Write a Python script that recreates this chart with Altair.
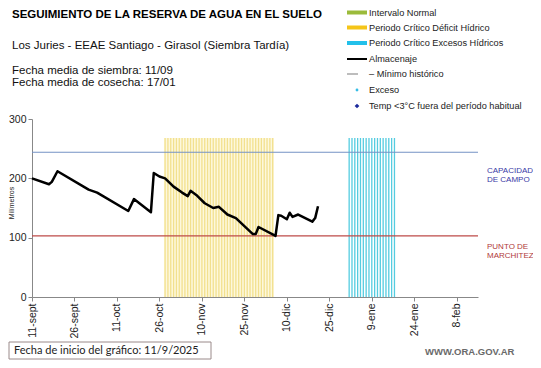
import altair as alt
import pandas as pd

# ---------------- data ----------------
start_date = "2025-09-11"

alm_dates = ["2025-09-11", "2025-09-17", "2025-09-18", "2025-09-20", "2025-10-01",
             "2025-10-04", "2025-10-15", "2025-10-17", "2025-10-23", "2025-10-24",
             "2025-10-26", "2025-10-28", "2025-10-31", "2025-11-03", "2025-11-04",
             "2025-11-05", "2025-11-06", "2025-11-08", "2025-11-11", "2025-11-14",
             "2025-11-16", "2025-11-19", "2025-11-22", "2025-11-28", "2025-11-29",
             "2025-11-30", "2025-12-06", "2025-12-07", "2025-12-08", "2025-12-10",
             "2025-12-11", "2025-12-12", "2025-12-14", "2025-12-19", "2025-12-20",
             "2025-12-21"]
alm_vals = [200, 190, 194, 212, 181, 176, 145, 165, 143, 209,
            203, 200, 186, 176, 173, 170, 179, 172, 158, 150,
            152, 139, 133, 106, 106, 118, 103, 138, 137, 131,
            142, 135, 139, 127, 133, 153]

deficit_start, deficit_end = "2025-10-28", "2025-12-05"
exceso_start, exceso_end = "2026-01-01", "2026-01-17"
band_top = 268
cap_campo = 244
punto_marchitez = 103

tick_labels = ["11-sept", "26-sept", "11-oct", "26-oct", "10-nov", "25-nov",
               "10-dic", "25-dic", "9-ene", "24-ene", "8-feb"]
y_ticks = [0, 50, 100, 150, 200, 250, 300]

# ---------------- tables ----------------
t0 = pd.to_datetime(start_date)
def day(d):
    return (pd.to_datetime(d) - t0).days

alm = pd.DataFrame({"day": [day(d) for d in alm_dates], "val": alm_vals})
def_days = list(range(day(deficit_start), day(deficit_end) + 1))
exc_days = list(range(day(exceso_start), day(exceso_end) + 1))
deficit = pd.DataFrame({"day": def_days, "top": band_top, "base": 0})
exceso = pd.DataFrame({"day": exc_days, "top": band_top, "base": 0})
def_bg = pd.DataFrame({"d1": [day(deficit_start) - 0.4], "d2": [day(deficit_end) + 0.4],
                       "top": [band_top], "base": [0]})
tick_days = [15 * i for i in range(len(tick_labels))]

W, H = 446, 178
FONT = "Liberation Sans"

xscale = alt.Scale(domain=[0, 157.5], nice=False, zero=False)
yscale = alt.Scale(domain=[0, 300], nice=False)

label_js = "[" + ",".join("'%s'" % s for s in tick_labels) + "][round(datum.value/15)]"

xaxis = alt.Axis(values=tick_days, labelExpr=label_js, labelAngle=-90, labelFontSize=10.5,
                 labelColor="#222", tickSize=4, tickColor="#888", domainColor="#888",
                 grid=False, title=None, labelPadding=2, labelFont=FONT)
yaxis = alt.Axis(values=y_ticks, labelFontSize=10.5, labelColor="#222", tickSize=4,
                 tickColor="#888", domainColor="#888", grid=False, title=None,
                 labelPadding=2, labelFont=FONT)

one = pd.DataFrame({"a": [0]})

ybg = alt.Chart(def_bg).mark_rect(color="#fdf8dc").encode(
    x=alt.X("d1:Q", scale=xscale, axis=xaxis), x2="d2:Q",
    y=alt.Y("top:Q", scale=yscale, axis=yaxis), y2="base:Q")
yellow = alt.Chart(deficit).mark_rule(color="#f2e08e", strokeWidth=1.3).encode(
    x=alt.X("day:Q", scale=xscale),
    y=alt.Y("top:Q", scale=yscale),
    y2="base:Q")
cyan = alt.Chart(exceso).mark_rule(color="#55cce0", strokeWidth=1.3).encode(
    x=alt.X("day:Q", scale=xscale), y=alt.Y("top:Q", scale=yscale), y2="base:Q")

cc = alt.Chart(pd.DataFrame({"v": [cap_campo]})).mark_rule(color="#7592c4", strokeWidth=1.2).encode(
    y=alt.Y("v:Q", scale=yscale))
pm = alt.Chart(pd.DataFrame({"v": [punto_marchitez]})).mark_rule(color="#be4b48", strokeWidth=1.2).encode(
    y=alt.Y("v:Q", scale=yscale))

line = alt.Chart(alm).mark_line(color="black", strokeWidth=2.5, strokeJoin="round").encode(
    x=alt.X("day:Q", scale=xscale), y=alt.Y("val:Q", scale=yscale))

OX, OY = 32, 119
def txt(s, px, py, size=11, color="#111", weight="normal", font=FONT, align="left", angle=0):
    return alt.Chart(one).mark_text(align=align, baseline="middle", fontSize=size, color=color,
                                    fontWeight=weight, font=font, angle=angle).encode(
        x=alt.value(px - OX), y=alt.value(py - OY), text=alt.value(s))

def seg(x1, x2, py, color, width):
    return alt.Chart(one).mark_rule(color=color, strokeWidth=width).encode(
        x=alt.value(x1 - OX), x2=alt.value(x2 - OX), y=alt.value(py - OY))

layers = [ybg, yellow, cyan, cc, pm, line]

# header texts
layers += [
    txt("SEGUIMIENTO DE LA RESERVA DE AGUA  EN EL SUELO", 12, 15, 11.5, "#000", "bold"),
    txt("Los Juries  - EEAE Santiago - Girasol (Siembra Tardía)", 12, 46, 11.5),
    txt("Fecha media de siembra: 11/09", 12, 71, 11.5),
    txt("Fecha media de cosecha: 17/01", 12, 83, 11.5),
]

# legend
LX1, LX2, LT = 347, 367, 369
leg_rows = [
    ("Intervalo Normal", 12.5), ("Periodo Crítico Déficit Hídrico", 27.5),
    ("Periodo Crítico Excesos Hídricos", 43), ("Almacenaje", 59),
    ("– Mínimo histórico", 74), ("Exceso", 90), ("Temp <3°C fuera del período habitual", 106)]
layers += [
    seg(LX1, LX2, 12.5, "#9bbb3b", 4),
    seg(LX1, LX2, 27.5, "#f5c518", 4),
    seg(LX1, LX2, 43, "#22c0ea", 4),
    seg(LX1, LX2, 59, "#000", 2),
    seg(LX1, 358, 74, "#999", 1.3),
]
for s, py in leg_rows:
    layers.append(txt(s, LT, py, 9.2, "#222"))
layers.append(alt.Chart(one).mark_point(filled=True, shape="circle", size=8, color="#35bde6", opacity=1).encode(
    x=alt.value(357 - OX), y=alt.value(90 - OY)))
layers.append(alt.Chart(one).mark_point(filled=True, shape="diamond", size=22, color="#1c2a9c", opacity=1).encode(
    x=alt.value(357 - OX), y=alt.value(106 - OY)))

# right annotations
layers += [
    txt("CAPACIDAD", 487, 171, 8, "#3a3aa6"),
    txt("DE  CAMPO", 487, 179.5, 8, "#3a3aa6"),
    txt("PUNTO  DE", 487, 247, 8, "#b03a3a"),
    txt("MARCHITEZ", 487, 255.5, 8, "#b03a3a"),
    txt("Milímetros", 12, 203, 7, "#222", angle=270, align="center"),
]

# footer
layers.append(alt.Chart(one).mark_rect(fill="white", stroke="#9a8a8a", strokeWidth=1).encode(
    x=alt.value(9 - OX), x2=alt.value(211 - OX), y=alt.value(342 - OY), y2=alt.value(359 - OY)))
layers += [
    txt("Fecha de inicio del gráfico:   11/9/2025", 14, 350.5, 11, "#222", font="Lato"),
    txt("WWW.ORA.GOV.AR", 425, 352, 9.5, "#6a6a6a", "bold"),
]

chart = alt.layer(*layers).properties(
    width=W, height=H, autosize="none",
    padding={"left": OX - 8, "top": OY - 8, "right": 525 - (OX - 8) - W, "bottom": 352 - (OY - 8) - H},
    background="white",
).configure_view(stroke=None)

chart.save("out.html", embed_options={"renderer": "svg", "actions": False})
